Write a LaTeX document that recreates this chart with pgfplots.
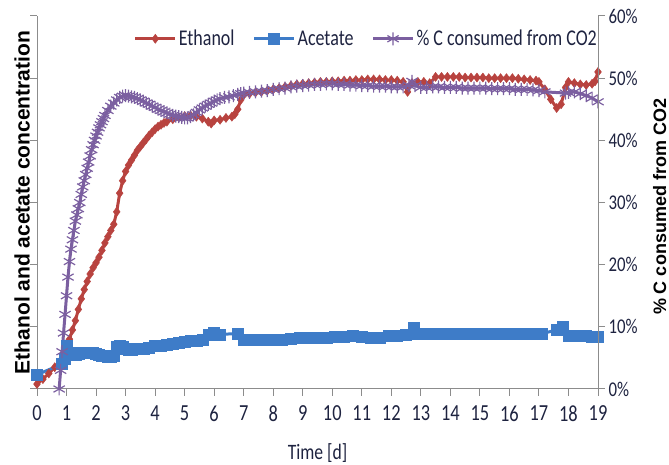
\documentclass[border=0pt]{standalone}
\usepackage{fontspec}
\setmainfont{Carlito}
\newfontfamily\condfont[FakeStretch=0.8]{Carlito}
\newfontfamily\labfont{Liberation Sans}
\usepackage{pgfplots}
\pgfplotsset{compat=1.18}
\definecolor{ethred}{HTML}{B8433F}
\definecolor{aceblue}{HTML}{3E7CC8}
\definecolor{cpurple}{HTML}{7B5FA0}
\definecolor{axgray}{HTML}{8C8C8C}
\definecolor{txt}{HTML}{1E2340}
\begin{document}
\begin{tikzpicture}
\begin{axis}[
  scale only axis, width=561pt, height=373pt,
  at={(0,0)}, anchor=south west,
  xmin=0, xmax=19, ymin=0, ymax=60,
  axis x line*=bottom, axis y line*=left,
  axis line style={axgray, line width=1pt, -},
  xtick={0,1,2,3,4,5,6,7,8,9,10,11,12,13,14,15,16,17,18,19},
  xticklabels={0,1,2,3,4,5,6,7,8,9,10,11,12,13,14,15,16,17,18,19},
  ytick={0,10,20,30,40,50,60}, yticklabels={},
  tick style={axgray, line width=1pt},
  tick align=outside, major tick length=7pt,
  xticklabel style={font=\condfont\fontsize{23}{27}\selectfont, text=txt, yshift=-6pt},
  xlabel={Time [d]},
  xlabel style={font=\condfont\fontsize{22}{26}\selectfont, text=txt, at={(axis description cs:0.5,-0.188)}, anchor=base},
  ylabel={Ethanol and acetate concentration},
  ylabel style={font=\labfont\bfseries\fontsize{21}{26}\selectfont, at={(axis description cs:-0.0267,0.5)}, anchor=center},
  clip=false,
  legend columns=3,
  legend style={draw=none, fill=none, at={(1,1)}, anchor=north east, yshift=-10pt, xshift=4pt,
    font=\condfont\fontsize{22.5}{27}\selectfont, text=txt,
    /tikz/every even column/.append style={column sep=16pt}},
  legend image code/.code={\draw[mark repeat=2, mark phase=2] plot coordinates {(0pt,0pt) (20pt,0pt) (40pt,0pt)};},
]
\addplot[ethred, line width=3pt, mark=diamond*, mark size=4.5pt, mark options={line width=0.5pt}] coordinates {
(0,0.8) (0.2,1.6) (0.4,2.5) (0.6,3.5) (0.8,4.6) (0.9,5.5) (1.0,6.8) (1.1,8.0) (1.2,9.5) (1.3,11.0)
(1.4,12.8) (1.5,14.5) (1.6,16.0) (1.7,17.3) (1.8,18.5) (1.9,19.5) (2.0,20.3) (2.1,21.2) (2.2,22.3)
(2.3,23.5) (2.4,24.5) (2.5,25.5) (2.6,26.5) (2.7,28.5) (2.8,31.5) (2.9,33.5) (3.0,35.0) (3.1,36.0)
(3.2,36.8) (3.3,37.6) (3.4,38.4) (3.5,39.0) (3.6,39.6) (3.7,40.2) (3.8,40.8) (3.9,41.3) (4.0,41.8)
(4.1,42.2) (4.2,42.5) (4.3,42.8) (4.4,43.0) (4.6,43.4) (4.8,43.7) (5.0,43.9) (5.2,44.0) (5.4,43.8)
(5.6,43.5) (5.8,43.0) (5.9,42.7) (6.0,43.2) (6.2,43.3) (6.4,43.6) (6.6,43.8) (6.7,44.2) (6.8,45.0)
(6.9,46.5) (7.0,47.3) (7.2,47.5) (7.4,47.7) (7.6,47.8) (7.8,48.0) (8.0,48.2) (8.2,48.4) (8.4,48.6)
(8.6,48.8) (8.8,49.0) (9.0,49.1) (9.2,49.2) (9.4,49.3) (9.6,49.4) (9.8,49.4) (10.0,49.5) (10.2,49.5)
(10.4,49.6) (10.6,49.6) (10.8,49.7) (11.0,49.7) (11.2,49.8) (11.4,49.8) (11.6,49.8) (11.8,49.7)
(12.0,49.7) (12.2,49.6) (12.4,49.4) (12.55,47.8) (12.7,49.2) (12.9,49.4) (13.1,49.4) (13.3,49.2)
(13.5,50.2) (13.7,50.2) (13.9,50.2) (14.1,50.2) (14.3,50.2) (14.5,50.1) (14.7,50.1) (14.9,50.1)
(15.1,50.1) (15.3,50.0) (15.5,50.0) (15.7,50.0) (15.9,50.0) (16.1,50.0) (16.3,49.9) (16.5,49.8)
(16.7,49.7) (16.9,49.6) (17.0,49.4) (17.2,48.2) (17.4,46.6) (17.6,45.2) (17.75,45.8) (17.9,48.5)
(18.0,49.4) (18.2,49.2) (18.4,49.0) (18.6,48.9) (18.8,49.1) (18.9,49.5) (19.0,51.0)
};
\addlegendentry{Ethanol}
\addplot[aceblue, line width=3pt, mark=square*, mark size=5.5pt, mark options={line width=0.5pt}] coordinates {
(0,2.3) (0.85,4.0) (0.95,4.8) (1.0,7.0) (1.1,5.8) (1.2,5.5) (1.3,5.5) (1.4,5.6) (1.5,5.8) (1.6,5.8)
(1.7,5.9) (1.8,5.9) (1.9,5.8) (2.0,5.6) (2.1,5.5) (2.2,5.4) (2.3,5.3) (2.4,5.2) (2.5,5.2) (2.6,5.3)
(2.7,6.8) (2.8,6.9) (2.9,6.8) (3.0,6.5) (3.1,6.3) (3.2,6.3) (3.4,6.4) (3.6,6.5) (3.8,6.7) (4.0,6.9)
(4.2,7.0) (4.4,7.1) (4.6,7.3) (4.8,7.5) (5.0,7.6) (5.2,7.7) (5.4,7.8) (5.6,8.0) (5.8,8.7) (6.0,9.0)
(6.2,8.8) (6.8,8.9) (7.0,7.9) (7.2,7.9) (7.4,7.9) (7.6,7.9) (7.8,8.0) (8.0,8.0) (8.3,8.0) (8.6,8.1)
(8.9,8.2) (9.2,8.2) (9.5,8.3) (9.8,8.3) (10.1,8.4) (10.4,8.4) (10.7,8.5) (11.0,8.4) (11.3,8.3)
(11.6,8.2) (11.9,8.5) (12.2,8.6) (12.5,8.7) (12.75,9.8) (12.9,8.9) (13.2,8.9) (13.4,8.9) (13.7,8.9)
(14.0,8.9) (14.3,8.9) (14.6,8.9) (14.9,8.9) (15.2,8.9) (15.5,8.9) (15.8,8.9) (16.1,8.9) (16.4,8.9)
(16.7,8.9) (17.1,8.9) (17.6,9.5) (17.8,10.0) (18.0,8.6) (18.2,8.5) (18.4,8.5) (18.6,8.5) (18.8,8.4)
(19.0,8.4)
};
\addlegendentry{Acetate}
\addplot[cpurple, line width=3pt, mark=asterisk, mark size=6.5pt, mark options={line width=1.2pt}] coordinates {
(0.75,0) (0.8,3) (0.85,6) (0.9,9) (0.95,12) (1.0,15) (1.05,18) (1.1,20.5) (1.15,22.5) (1.2,24)
(1.25,25.5) (1.3,27) (1.35,28) (1.4,29) (1.45,30) (1.5,31.3) (1.55,32.5) (1.6,33.5) (1.65,34.5)
(1.7,35.5) (1.75,36.5) (1.8,37.5) (1.85,38.5) (1.9,39.3) (1.95,40) (2.0,40.7) (2.05,41.3) (2.1,42)
(2.15,42.5) (2.2,43) (2.25,43.5) (2.3,44) (2.4,44.8) (2.5,45.5) (2.6,46) (2.7,46.5) (2.8,46.9)
(2.9,47.1) (3.0,47.2) (3.1,47.1) (3.2,47.0) (3.3,46.9) (3.4,46.7) (3.5,46.5) (3.6,46.3) (3.7,46.0)
(3.8,45.8) (3.9,45.5) (4.0,45.3) (4.1,45.0) (4.2,44.8) (4.3,44.6) (4.4,44.4) (4.5,44.2) (4.6,44.0)
(4.7,43.9) (4.8,43.8) (4.9,43.7) (5.0,43.6) (5.1,43.6) (5.2,43.8) (5.3,44.1) (5.4,44.5) (5.5,44.9)
(5.6,45.2) (5.7,45.5) (5.8,45.8) (5.9,46.0) (6.0,46.3) (6.1,46.5) (6.2,46.7) (6.35,46.9) (6.5,47.0)
(6.65,47.2) (6.8,47.4) (6.9,47.5) (7.0,47.6) (7.2,47.7) (7.4,47.8) (7.6,47.9) (7.8,48.0) (8.0,48.2)
(8.2,48.3) (8.4,48.4) (8.6,48.6) (8.8,48.7) (9.0,48.8) (9.2,48.9) (9.4,49.0) (9.6,49.0) (9.8,49.1)
(10.0,49.1) (10.2,49.0) (10.4,49.0) (10.6,48.9) (10.8,48.9) (11.0,48.8) (11.2,48.8) (11.4,48.7)
(11.6,48.7) (11.8,48.7) (12.0,48.6) (12.2,48.6) (12.4,48.6) (12.6,48.8) (12.7,49.5) (12.8,48.8)
(13.0,48.5) (13.2,48.5) (13.4,48.6) (13.6,48.6) (13.8,48.5) (14.0,48.5) (14.2,48.5) (14.4,48.4)
(14.6,48.4) (14.8,48.4) (15.0,48.4) (15.2,48.4) (15.4,48.3) (15.6,48.3) (15.8,48.3) (16.0,48.3)
(16.2,48.2) (16.4,48.2) (16.6,48.2) (16.8,48.1) (17.0,48.0) (17.2,47.8) (17.9,47.6) (18.0,47.7)
(18.2,47.8) (18.4,47.5) (18.6,47.2) (18.8,46.8) (19.0,46.2)
};
\addlegendentry{\% C consumed from CO2}
\end{axis}
\begin{axis}[
  scale only axis, width=561pt, height=373pt,
  at={(0,0)}, anchor=south west,
  xmin=0, xmax=19, ymin=0, ymax=60,
  axis x line=none, axis y line*=right,
  axis line style={axgray, line width=1pt, -},
  tick style={axgray, line width=1pt},
  tick align=outside, major tick length=7pt,
  ytick={0,10,20,30,40,50,60},
  yticklabels={0\%,10\%,20\%,30\%,40\%,50\%,60\%},
  yticklabel style={font=\condfont\fontsize{21}{25}\selectfont, text=txt},
  ylabel={\% C consumed from CO2},
  ylabel style={font=\labfont\bfseries\fontsize{18}{22}\selectfont, at={(axis description cs:1.11,0.488)}, anchor=center, rotate=0},
]
\addplot[draw=none] coordinates {(0,0)};
\end{axis}
\pgfresetboundingbox
\path (-37pt,-76pt) rectangle (632pt,389pt);
\end{tikzpicture}
\end{document}
